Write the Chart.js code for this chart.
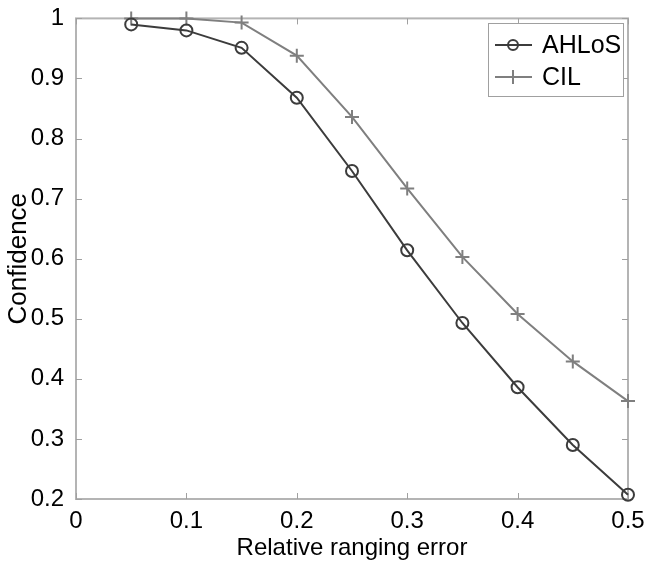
<!DOCTYPE html>
<html>
<head>
<meta charset="utf-8">
<script src="https://cdn.jsdelivr.net/npm/chart.js@4"></script>
<style>
  html, body { margin: 0; padding: 0; background: #fff; }
  #wrap { width: 646px; height: 563px; }
</style>
</head>
<body>
<div id="wrap"><canvas id="chart" width="646" height="563"></canvas></div>
<script>
// ------------------------------------------------------------
// Données
// ------------------------------------------------------------
const errors = [0.05, 0.1, 0.15, 0.2, 0.25, 0.3, 0.35, 0.4, 0.45, 0.5];
const ahlos  = [0.990, 0.980, 0.951, 0.868, 0.746, 0.614, 0.493, 0.386, 0.290, 0.207];
const cil    = [1.000, 1.000, 0.993, 0.938, 0.836, 0.717, 0.603, 0.508, 0.429, 0.363];
const xTicks = [0, 0.1, 0.2, 0.3, 0.4, 0.5];
const yTicks = [0.2, 0.3, 0.4, 0.5, 0.6, 0.7, 0.8, 0.9, 1];

const FONT = 'Liberation Sans, Arial, sans-serif';
const DARK = '#3c3c3c';
const GREY = '#7f7f7f';

function toPoints(ys) {
  return errors.map((x, i) => ({ x: x, y: ys[i] }));
}

// ------------------------------------------------------------
// Cadre + graduations intérieures (style Matlab)
// ------------------------------------------------------------
const framePlugin = {
  id: 'frame',
  beforeDatasetsDraw(chart) {
    const { ctx, chartArea: a, scales } = chart;
    ctx.save();
    ctx.strokeStyle = '#b4b4b4';
    ctx.lineWidth = 2;
    ctx.strokeRect(a.left, a.top, a.right - a.left, a.bottom - a.top);
    ctx.strokeStyle = '#a0a0a0';
    ctx.lineWidth = 1;
    ctx.beginPath();
    xTicks.forEach((v) => {
      const px = Math.round(scales.x.getPixelForValue(v)) + 0.5;
      ctx.moveTo(px, a.bottom); ctx.lineTo(px, a.bottom - 6);
      ctx.moveTo(px, a.top);    ctx.lineTo(px, a.top + 6);
    });
    yTicks.forEach((v) => {
      const py = Math.round(scales.y.getPixelForValue(v)) + 0.5;
      ctx.moveTo(a.left, py);  ctx.lineTo(a.left + 6, py);
      ctx.moveTo(a.right, py); ctx.lineTo(a.right - 6, py);
    });
    ctx.stroke();
    ctx.restore();
  },
  afterDraw(chart) {
    // Légende encadrée : trait + marqueur
    const { ctx } = chart;
    const bx = 488, by = 23, bw = 135, bh = 73;
    ctx.save();
    ctx.fillStyle = '#fff';
    ctx.fillRect(bx, by, bw, bh);
    ctx.strokeStyle = '#a0a0a0';
    ctx.lineWidth = 1;
    ctx.strokeRect(bx + 0.5, by + 0.5, bw, bh);

    const items = [
      { label: 'AHLoS', color: DARK, style: 'circle', y: by + 22 },
      { label: 'CIL',   color: GREY, style: 'cross',  y: by + 54 },
    ];
    items.forEach((it) => {
      ctx.strokeStyle = it.color;
      ctx.lineWidth = 2;
      ctx.beginPath();
      ctx.moveTo(bx + 7, it.y); ctx.lineTo(bx + 44, it.y);
      ctx.stroke();
      ctx.beginPath();
      if (it.style === 'circle') {
        ctx.arc(bx + 25, it.y, 5, 0, Math.PI * 2);
      } else {
        ctx.moveTo(bx + 25, it.y - 7); ctx.lineTo(bx + 25, it.y + 7);
      }
      ctx.stroke();
      ctx.fillStyle = '#000';
      ctx.font = '25px ' + FONT;
      ctx.textBaseline = 'middle';
      ctx.fillText(it.label, bx + 54, it.y + 1);
    });
    ctx.restore();
  },
};

// ------------------------------------------------------------
// Graphique
// ------------------------------------------------------------
new Chart(document.getElementById('chart'), {
  type: 'line',
  data: {
    datasets: [
      {
        label: 'AHLoS',
        data: toPoints(ahlos),
        borderColor: DARK,
        borderWidth: 2,
        pointStyle: 'circle',
        pointRadius: 6,
        pointBorderWidth: 2,
        pointBorderColor: DARK,
        pointBackgroundColor: 'rgba(0,0,0,0)',
        tension: 0,
        clip: false,
      },
      {
        label: 'CIL',
        data: toPoints(cil),
        borderColor: GREY,
        borderWidth: 2,
        pointStyle: 'cross',
        pointRadius: 7,
        pointBorderWidth: 2,
        pointBorderColor: GREY,
        tension: 0,
        clip: false,
      },
    ],
  },
  options: {
    responsive: false,
    animation: false,
    layout: { padding: { top: 18, right: 18, left: 0, bottom: 0 } },
    plugins: {
      legend: { display: false },
      tooltip: { enabled: false },
    },
    scales: {
      x: {
        type: 'linear',
        min: 0,
        max: 0.5,
        afterBuildTicks: (s) => { s.ticks = xTicks.map((v) => ({ value: v })); },
        afterFit: (s) => { s.height = 64; },
        grid: { display: false },
        border: { display: false },
        ticks: {
          color: '#000',
          padding: 0,
          maxRotation: 0,
          font: { family: FONT, size: 24 },
          callback: (v) => String(v),
        },
        title: {
          display: true,
          text: 'Relative ranging error',
          color: '#000',
          padding: { top: 0, bottom: 0 },
          font: { family: FONT, size: 24 },
        },
      },
      y: {
        type: 'linear',
        min: 0.2,
        max: 1,
        afterBuildTicks: (s) => { s.ticks = yTicks.map((v) => ({ value: v })); },
        afterFit: (s) => { s.width = 76; },
        grid: { display: false },
        border: { display: false },
        ticks: {
          color: '#000',
          padding: 4,
          font: { family: FONT, size: 24 },
          callback: (v) => String(Math.round(v * 10) / 10),
        },
        title: {
          display: true,
          text: 'Confidence',
          color: '#000',
          padding: { top: 3, bottom: 0 },
          font: { family: FONT, size: 26 },
        },
      },
    },
  },
  plugins: [framePlugin],
});
</script>
</body>
</html>
